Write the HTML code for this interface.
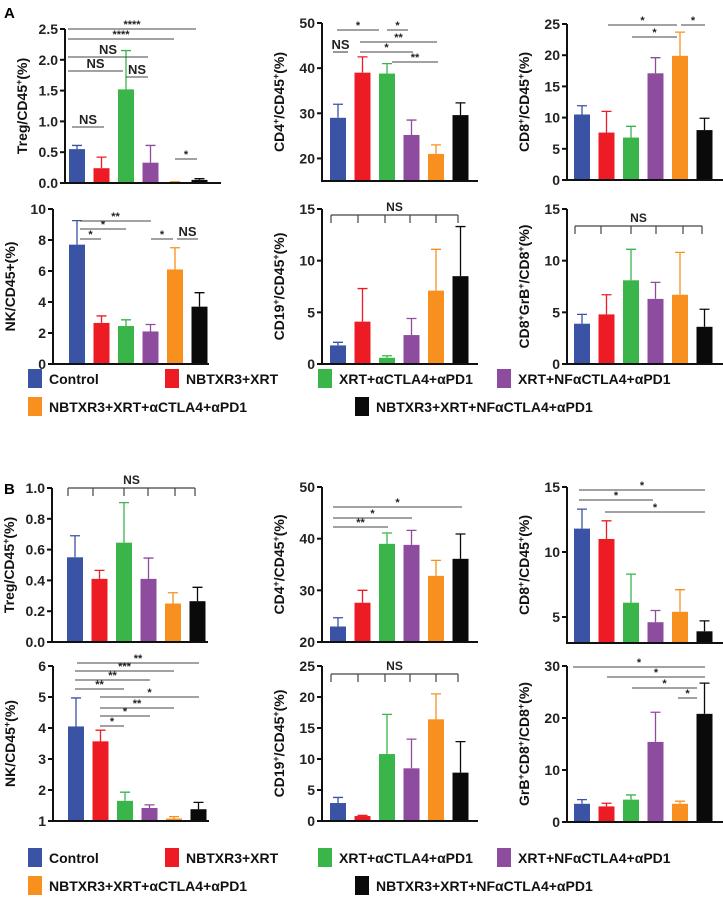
<!DOCTYPE html>
<html><head><meta charset="utf-8"><style>
body{margin:0;background:#fff}
svg{display:block;font-family:"Liberation Sans",Arial,sans-serif;font-weight:bold}
</style></head><body>
<svg id="fig" width="723" height="899" viewBox="0 0 723 899">
<text x="4" y="18" font-size="15">A</text>
<text x="4" y="494" font-size="15">B</text>
</svg>
<script>
const colors=["#3a53a4","#ed1c24","#39b54a","#8e4c9e","#f7901e","#0a0a0a"];
const groups=["Control","NBTXR3+XRT","XRT+αCTLA4+αPD1","XRT+NFαCTLA4+αPD1","NBTXR3+XRT+αCTLA4+αPD1","NBTXR3+XRT+NFαCTLA4+αPD1"];
// values (means) and error-bar tops
const aTregVals=[0.55,0.24,1.52,0.33,0.01,0.05], aTregErr=[0.61,0.42,2.15,0.61,0.02,0.07];
const aCD4Vals=[29,39,38.8,25.2,21,29.6], aCD4Err=[32,42.5,41,28.5,23,32.3];
const aCD8Vals=[10.5,7.6,6.8,17.1,19.9,8], aCD8Err=[11.9,11,8.6,19.6,23.7,9.9];
const aNKVals=[7.7,2.65,2.45,2.1,6.1,3.7], aNKErr=[9.25,3.1,2.85,2.55,7.5,4.6];
const aCD19Vals=[1.8,4.1,0.6,2.8,7.1,8.5], aCD19Err=[2.1,7.3,0.8,4.4,11.1,13.3];
const aGrBVals=[3.9,4.8,8.1,6.3,6.7,3.6], aGrBErr=[4.8,6.7,11.1,7.9,10.8,5.3];
const bTregVals=[0.55,0.41,0.645,0.41,0.25,0.265], bTregErr=[0.69,0.465,0.905,0.545,0.32,0.355];
const bCD4Vals=[23,27.6,39,38.8,32.8,36.1], bCD4Err=[24.7,30,41.1,41.6,35.8,40.9];
const bCD8Vals=[11.8,11,6.1,4.6,5.4,3.9], bCD8Err=[13.3,12.4,8.3,5.5,7.1,4.7];
const bNKVals=[4.05,3.57,1.65,1.42,1.08,1.38], bNKErr=[4.97,3.93,1.93,1.52,1.14,1.6];
const bCD19Vals=[2.9,0.8,10.8,8.5,16.4,7.8], bCD19Err=[3.8,0.9,17.2,13.2,20.5,12.8];
const bGrBVals=[3.5,3,4.3,15.4,3.5,20.8], bGrBErr=[4.3,3.6,5.2,21.1,4,26.7];
const ticksTregA=[0,0.5,1,1.5,2,2.5], ticksCD4=[20,30,40,50], ticksCD8A=[0,5,10,15,20,25], ticksNKA=[0,2,4,6,8,10];
const ticks15=[0,5,10,15], ticksTregB=[0,0.2,0.4,0.6,0.8,1], ticksCD8B=[5,10,15], ticksNKB=[1,2,3,4,5,6], ticksCD19B=[0,5,10,15,20,25], ticksGrBB=[0,10,20,30];

const NS="http://www.w3.org/2000/svg", svg=document.getElementById('fig');
function mk(t,a,p){const e=document.createElementNS(NS,t);for(const k in a)e.setAttribute(k,a[k]);(p||svg).appendChild(e);return e;}

const panels=[
 {id:"a-treg",ax:65,bot:183,top:29,vmin:0,vmax:2.5,ticks:ticksTregA,dec:1,b0:77,vals:aTregVals,err:aTregErr,title:[["Treg/CD45"],["+","s"],["(%)"]]},
 {id:"a-cd4",ax:322,bot:181,top:23,vmin:15,vmax:50,ticks:ticksCD4,dec:0,b0:338,vals:aCD4Vals,err:aCD4Err,title:[["CD4"],["+","s"],["/CD45"],["+","s"],["(%)"]]},
 {id:"a-cd8",ax:567,bot:180,top:24,vmin:0,vmax:25,ticks:ticksCD8A,dec:0,b0:582,vals:aCD8Vals,err:aCD8Err,title:[["CD8"],["+","s"],["/CD45"],["+","s"],["(%)"]]},
 {id:"a-nk",ax:53,bot:364,top:209,vmin:0,vmax:10,ticks:ticksNKA,dec:0,b0:77,vals:aNKVals,err:aNKErr,title:[["NK/CD45+(%)"]]},
 {id:"a-cd19",ax:322,bot:364,top:209,vmin:0,vmax:15,ticks:ticks15,dec:0,b0:338,vals:aCD19Vals,err:aCD19Err,title:[["CD19"],["+","s"],["/CD45"],["+","s"],["(%)"]]},
 {id:"a-grb",ax:567,bot:364,top:209,vmin:0,vmax:15,ticks:ticks15,dec:0,b0:582,vals:aGrBVals,err:aGrBErr,title:[["CD8"],["+","s"],["GrB"],["+","s"],["/CD8"],["+","s"],["(%)"]]},
 {id:"b-treg",ax:52,bot:642,top:488,vmin:0,vmax:1,ticks:ticksTregB,dec:1,b0:75,vals:bTregVals,err:bTregErr,title:[["Treg/CD45"],["+","s"],["(%)"]]},
 {id:"b-cd4",ax:322,bot:642,top:487,vmin:20,vmax:50,ticks:ticksCD4,dec:0,b0:338,vals:bCD4Vals,err:bCD4Err,title:[["CD4"],["+","s"],["/CD45"],["+","s"],["(%)"]]},
 {id:"b-cd8",ax:567,bot:643,top:487,vmin:3,vmax:15,ticks:ticksCD8B,dec:0,b0:582,vals:bCD8Vals,err:bCD8Err,title:[["CD8"],["+","s"],["/CD45"],["+","s"],["(%)"]]},
 {id:"b-nk",ax:53,bot:821,top:666,vmin:1,vmax:6,ticks:ticksNKB,dec:0,b0:76,vals:bNKVals,err:bNKErr,title:[["NK/CD45"],["+","s"],["(%)"]]},
 {id:"b-cd19",ax:322,bot:821,top:666,vmin:0,vmax:25,ticks:ticksCD19B,dec:0,b0:338,vals:bCD19Vals,err:bCD19Err,title:[["CD19"],["+","s"],["/CD45"],["+","s"],["(%)"]]},
 {id:"b-grb",ax:567,bot:822,top:666,vmin:0,vmax:30,ticks:ticksGrBB,dec:0,b0:582,vals:bGrBVals,err:bGrBErr,title:[["GrB"],["+","s"],["CD8"],["+","s"],["/CD8"],["+","s"],["(%)"]]}
];

panels.forEach(p=>{
 const g=mk('g',{});
 
 
 const y=v=>p.bot-(v-p.vmin)/(p.vmax-p.vmin)*(p.bot-p.top);
 const x=i=>p.b0+i*24.5;
 p.vals.forEach((v,i)=>{
  const c=colors[i];
  const ey=y(p.err[i]);
  const eb=mk('path',{d:`M${x(i)} ${y(v)}V${ey}M${x(i)-5} ${ey}H${x(i)+5}`,stroke:c,'stroke-width':1.3,fill:'none'},g);
  
  
  const r=mk('rect',{x:x(i)-8,y:y(v),width:16,height:Math.max(0,p.bot-y(v)),fill:c},g);
  
  
 });
 const axl=mk('path',{d:`M${p.ax} ${p.top}V${p.bot}H${p.ax+156}`,stroke:'#111','stroke-width':2,fill:'none'},g);
 
 
 p.ticks.forEach(t=>{
  mk('line',{x1:p.ax-5,x2:p.ax,y1:y(t),y2:y(t),stroke:'#111','stroke-width':2},g);
  const tl=mk('text',{x:p.ax-7,y:y(t)+5,'font-size':14,'text-anchor':'end',fill:'#222'},g);
  tl.textContent=t.toFixed(p.dec);
  
  
 });
 const cy=(p.top+p.bot)/2, tx=p.ax-38;
 const tt=mk('text',{transform:`translate(${tx},${cy}) rotate(-90)`,'text-anchor':'middle','font-size':14,fill:'#111'},g);
 
 
 p.title.forEach(s=>{const ts=mk('tspan',s[1]?{'baseline-shift':'super','font-size':9}:{},tt);ts.textContent=s[0];});
});

// significance annotations [x1,x2,y,label]
const sig=[
[68,196,29,"****"],[68,174,39,"****"],[68,148,57,"NS"],[68,123,71,"NS"],[126,148,77,"NS"],[72,104,127,"NS"],[175,197,159,"*"],
[337,379,30,"*"],[333,348,52,"NS"],[387,408,30,"*"],[360,437,42,"**"],[360,413,52,"*"],[392,438,62,"**"],
[608,677,25,"*"],[681,705,25,"*"],[632,677,37,"*"],
[80,151,221,"**"],[80,126,229,"*"],[80,101,239,"*"],[151,173,239,"*"],[177,198,239,"NS"],
[333,462,507,"*"],[333,412,518,"*"],[333,388,527,"**"],
[579,705,490,"*"],[579,653,500,"*"],[605,705,512,"*"],
[77,199,663,"**"],[75,174,671,"***"],[75,150,680,"**"],[75,124,689,"**"],[100,199,697,"*"],[100,174,708,"**"],[100,150,716,"*"],[100,124,726,"*"],
[573,705,667,"*"],[607,705,677,"*"],[632,697,688,"*"],[678,697,698,"*"]
];
sig.forEach(s=>{
 const l=mk('line',{x1:s[0],x2:s[1],y1:s[2],y2:s[2],stroke:'#444','stroke-width':1.1});
 
 
 const star=s[3].startsWith('*');
 const t=mk('text',{x:(s[0]+s[1])/2,y:s[2]-(star?1:3),'font-size':star?11:13,'text-anchor':'middle',fill:'#222'});
 t.textContent=s[3];
 
 
});
// NS brackets [y, tickXs]
const brackets=[[215,[331,358,385,410,436,458]],[226,[575,601,631,656,683,702]],[488,[68,93,124,148,175,195]],[674,[331,358,385,410,436,458]]];
brackets.forEach(b=>{
 const xs=b[1];let d=`M${xs[0]} ${b[0]}H${xs[xs.length-1]}`;
 xs.forEach(xx=>d+=`M${xx} ${b[0]}V${b[0]+8}`);
 const pth=mk('path',{d,stroke:'#444','stroke-width':1.2,fill:'none'});
 
 
 const t=mk('text',{x:(xs[0]+xs[xs.length-1])/2,y:b[0]-4,'font-size':12,'text-anchor':'middle',fill:'#222'});
 t.textContent="NS";
 
 
});
// legends
const legPos=[[28,0],[165,0],[318,0],[497,0],[28,1],[355,1]];
[[369,378],[848,857]].forEach((ly,k)=>{
 groups.forEach((gname,i)=>{
  const [lx,row]=legPos[i]; const yy=ly[0]+row*28;
  const g=mk('g',{});
  
  
  mk('rect',{x:lx,y:yy,width:14,height:19,fill:colors[i]},g);
  const t=mk('text',{x:lx+21,y:yy+15,'font-size':14,fill:'#111'},g);
  t.textContent=gname;
 });
});
</script>
</body></html>
